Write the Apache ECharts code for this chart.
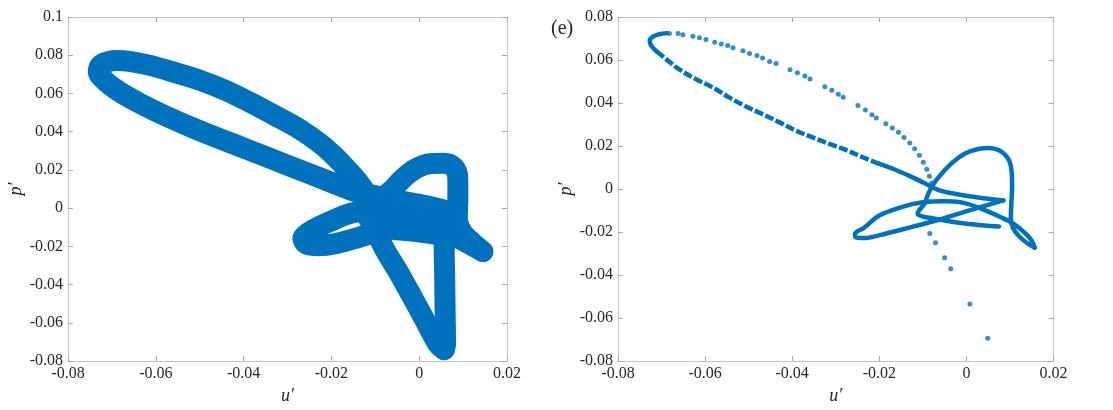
<!DOCTYPE html>
<html>
<head>
<meta charset="utf-8">
<script src="https://cdn.jsdelivr.net/npm/echarts@6/dist/echarts.min.js"></script>
<style>
  html, body { margin: 0; padding: 0; background: #fff; }
  #chart { width: 1113px; height: 410px; }
</style>
</head>
<body>
<div id="chart"></div>
<script>
// Tick values of the two phase portraits
const uTicks = [-0.08, -0.06, -0.04, -0.02, 0, 0.02];
const pTicksLeft = [-0.08, -0.06, -0.04, -0.02, 0, 0.02, 0.04, 0.06, 0.08, 0.1];
const pTicksRight = [-0.08, -0.06, -0.04, -0.02, 0, 0.02, 0.04, 0.06, 0.08];

// Left portrait: thick trajectory, split at its turning points
const leftLoop = [
  [0.0066, -0.0016], [0.0017, 0.0012], [-0.0044, 0.0038], [-0.0104, 0.0068],
  [-0.0150, 0.0090], [-0.0200, 0.0135], [-0.0300, 0.0225], [-0.0400, 0.0315],
  [-0.0500, 0.0405], [-0.0580, 0.0485], [-0.0640, 0.0553], [-0.0685, 0.0612],
  [-0.0715, 0.0665], [-0.0731, 0.0712], [-0.0726, 0.0748], [-0.0708, 0.0767],
  [-0.0688, 0.0772], [-0.0660, 0.0768], [-0.0613, 0.0747], [-0.0550, 0.0705],
  [-0.0499, 0.0669], [-0.0440, 0.0615], [-0.0385, 0.0553], [-0.0330, 0.0486],
  [-0.0271, 0.0411], [-0.0225, 0.0337], [-0.0195, 0.0276], [-0.0165, 0.0205],
  [-0.0140, 0.0140], [-0.0120, 0.0075], [-0.0105, -0.0005], [-0.0089, -0.0166],
  [-0.0044, -0.0348], [0.0002, -0.0539], [0.0032, -0.0669], [0.0045, -0.0718],
  [0.0057, -0.0740]
];
const leftBar = [
  [0.0057, -0.0740], [0.0060, -0.0712], [0.0059, -0.0539], [0.0058, -0.0348],
  [0.0057, -0.0227], [0.0057, -0.0144]
];
const leftKnot = [
  [0.0057, -0.0144], [-0.0006, -0.0123], [-0.0066, -0.0109], [-0.0100, -0.0088],
  [-0.0116, -0.0045], [-0.0105, 0.0010], [-0.0085, 0.0050], [-0.0060, 0.0100],
  [-0.0035, 0.0160], [-0.0005, 0.0210], [0.0025, 0.0233], [0.0055, 0.0235],
  [0.0079, 0.0214], [0.0088, 0.0154], [0.0088, 0.0050], [0.0087, -0.0054],
  [0.0097, -0.0123], [0.0119, -0.0175], [0.0145, -0.0227]
];
const leftLobe = [
  [0.0145, -0.0227], [0.0111, -0.0184], [0.0078, -0.0144], [0.0032, -0.0109],
  [-0.0044, -0.0062], [-0.0097, -0.0022], [-0.0135, -0.0019], [-0.0165, -0.0033],
  [-0.0195, -0.0062], [-0.0226, -0.0094], [-0.0252, -0.0128], [-0.0265, -0.0158],
  [-0.0256, -0.0189], [-0.0226, -0.0196], [-0.0188, -0.0184], [-0.0150, -0.0161],
  [-0.0116, -0.0137], [-0.0066, -0.0106], [-0.0006, -0.0068], [0.0066, -0.0028]
];

// Right portrait: slowly traversed parts (dense samples) and fast parts (sparse dots)
const rightBranchNear = [
  [0.0085, -0.0053], [0.0050, -0.0045], [0.0010, -0.0035], [-0.0030, -0.0021],
  [-0.0065, -0.0004], [-0.0099, 0.0030], [-0.0130, 0.0060], [-0.0166, 0.0092],
  [-0.0200, 0.0117]
];
const rightBranchFar = [
  [-0.0200, 0.0117], [-0.0238, 0.0148], [-0.0277, 0.0182], [-0.0315, 0.0210],
  [-0.0353, 0.0240], [-0.0391, 0.0271], [-0.0429, 0.0310], [-0.0468, 0.0348],
  [-0.0506, 0.0384], [-0.0544, 0.0425], [-0.0582, 0.0472], [-0.0620, 0.0510],
  [-0.0659, 0.0556], [-0.0689, 0.0603], [-0.0712, 0.0641]
];
const rightTip = [
  [-0.0712, 0.0641], [-0.0724, 0.0668], [-0.0727, 0.0690], [-0.0720, 0.0709],
  [-0.0705, 0.0720], [-0.0688, 0.0725]
];
const rightLobe = [
  [0.0085, -0.0053], [0.0034, -0.0083], [-0.0017, -0.0114], [-0.0067, -0.0145],
  [-0.0125, -0.0176], [-0.0199, -0.0214], [-0.0235, -0.0228], [-0.0255, -0.0224],
  [-0.0256, -0.0210], [-0.0235, -0.0180], [-0.0199, -0.0122], [-0.0147, -0.0083],
  [-0.0104, -0.0063], [-0.0053, -0.0057], [-0.0009, -0.0063], [0.0034, -0.0091],
  [0.0078, -0.0130], [0.0107, -0.0160], [0.0136, -0.0207], [0.0150, -0.0240],
  [0.0157, -0.0273]
];
const rightLoop = [
  [0.0157, -0.0273], [0.0140, -0.0252], [0.0122, -0.0222], [0.0108, -0.0185],
  [0.0102, -0.0140], [0.0103, -0.0076], [0.0105, 0.0017], [0.0102, 0.0109],
  [0.0093, 0.0150], [0.0075, 0.0180], [0.0053, 0.0191], [0.0025, 0.0185],
  [-0.0003, 0.0165], [-0.0031, 0.0125], [-0.0057, 0.0071], [-0.0076, 0.0022],
  [-0.0088, -0.0025], [-0.0096, -0.0068], [-0.0108, -0.0097], [-0.0112, -0.0115],
  [-0.0100, -0.0128], [-0.0078, -0.0136], [-0.0040, -0.0150], [0.0000, -0.0161],
  [0.0040, -0.0169], [0.0075, -0.0174]
];
const rightDots = [
  [-0.0682, 0.0723], [-0.0662, 0.0723], [-0.0651, 0.0718], [-0.0628, 0.0711],
  [-0.0613, 0.0703], [-0.0598, 0.0695], [-0.0578, 0.0683], [-0.0563, 0.0675],
  [-0.0548, 0.0667], [-0.0536, 0.0657], [-0.0513, 0.0643], [-0.0498, 0.0630],
  [-0.0481, 0.0621], [-0.0468, 0.0609], [-0.0452, 0.0593], [-0.0437, 0.0584],
  [-0.0405, 0.0555], [-0.0388, 0.0541], [-0.0371, 0.0526], [-0.0359, 0.0512],
  [-0.0325, 0.0476], [-0.0309, 0.0459], [-0.0294, 0.0441], [-0.0283, 0.0427],
  [-0.0249, 0.0388], [-0.0232, 0.0367], [-0.0217, 0.0345], [-0.0207, 0.0330],
  [-0.0185, 0.0304], [-0.0170, 0.0284], [-0.0156, 0.0264], [-0.0143, 0.0240],
  [-0.0130, 0.0214], [-0.0119, 0.0187], [-0.0108, 0.0157], [-0.0099, 0.0125],
  [-0.0091, 0.0092], [-0.0085, 0.0060], [-0.0080, 0.0027],
  [-0.0084, -0.0207], [-0.0071, -0.0250], [-0.0050, -0.0319], [-0.0036, -0.0371],
  [0.0008, -0.0535], [0.0049, -0.0694]
];

const BLUE = '#0072BD';
const FRAME = '#c4c4c4';
const TEXT = '#262626';
const SERIF = "'Liberation Serif', 'Times New Roman', serif";

const fmt = v => String(Math.round(v * 100) / 100);

function axis(ticks, gridIndex, position, withLabels, name) {
  const a = {
    type: 'value', gridIndex, position,
    min: ticks[0], max: ticks[ticks.length - 1], interval: ticks[1] - ticks[0],
    splitLine: { show: false },
    axisLine: { show: true, onZero: false, lineStyle: { color: FRAME, width: 1 } },
    axisTick: { show: true, inside: true, length: 5, lineStyle: { color: '#aaaaaa' } },
    axisLabel: {
      show: withLabels, formatter: fmt, color: TEXT,
      fontFamily: SERIF, fontSize: 16, margin: 5
    }
  };
  if (name) {
    a.name = name;
    a.nameLocation = 'middle';
    a.nameTextStyle = { fontFamily: SERIF, fontStyle: 'italic', fontSize: 18, color: TEXT };
    a.nameGap = (position === 'bottom') ? 24 : 43;
  }
  return a;
}

function band(data, xi, yi) {
  return {
    type: 'line', data, xAxisIndex: xi, yAxisIndex: yi,
    showSymbol: false, smooth: 0.35, silent: true,
    lineStyle: { color: BLUE, width: 21, cap: 'round', join: 'round' }
  };
}
function thin(data, xi, yi, dash) {
  return {
    type: 'line', data, xAxisIndex: xi, yAxisIndex: yi,
    showSymbol: false, smooth: 0.35, silent: true,
    lineStyle: dash
      ? { color: BLUE, width: 4.5, type: dash, cap: 'butt', join: 'round' }
      : { color: BLUE, width: 4.5, cap: 'round', join: 'round' }
  };
}

const chart = echarts.init(document.getElementById('chart'), null, { renderer: 'canvas' });
chart.setOption({
  animation: false,
  backgroundColor: '#ffffff',
  grid: [
    { left: 68, top: 17, width: 439, height: 345.5 },
    { left: 618, top: 17, width: 435.5, height: 345.5 }
  ],
  xAxis: [
    axis(uTicks, 0, 'bottom', true, 'u\u2032'),
    axis(uTicks, 0, 'top', false),
    axis(uTicks, 1, 'bottom', true, 'u\u2032'),
    axis(uTicks, 1, 'top', false)
  ],
  yAxis: [
    axis(pTicksLeft, 0, 'left', true, 'p\u2032'),
    axis(pTicksLeft, 0, 'right', false),
    axis(pTicksRight, 1, 'left', true, 'p\u2032'),
    axis(pTicksRight, 1, 'right', false)
  ],
  graphic: [{
    type: 'text', left: 551, top: 19,
    style: { text: '(e)', font: "20px 'Liberation Serif', serif", fill: TEXT }
  }],
  series: [
    band(leftLoop, 0, 0), band(leftBar, 0, 0), band(leftKnot, 0, 0), band(leftLobe, 0, 0),
    thin(rightBranchNear, 2, 2), thin(rightBranchFar, 2, 2, [9, 2.5]), thin(rightTip, 2, 2),
    thin(rightLobe, 2, 2), thin(rightLoop, 2, 2),
    {
      type: 'scatter', data: rightDots, xAxisIndex: 2, yAxisIndex: 2,
      symbolSize: 5, silent: true, itemStyle: { color: BLUE }
    }
  ]
});
</script>
</body>
</html>
